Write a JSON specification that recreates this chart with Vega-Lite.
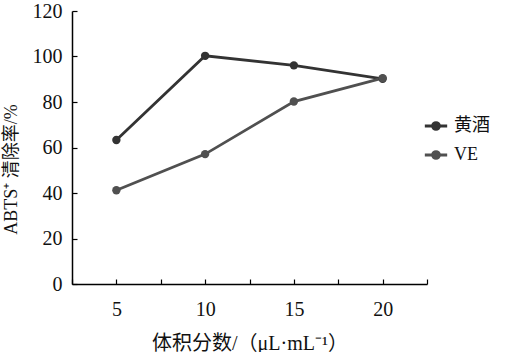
{
  "$schema": "https://vega.github.io/schema/vega-lite/v6.json",
  "width": 355,
  "height": 273,
  "autosize": "none",
  "padding": {"left": 72, "top": 11, "right": 81, "bottom": 68},
  "background": "white",
  "config": {
    "view": {"stroke": null},
    "font": "Liberation Serif, Noto Sans CJK SC",
    "axis": {
      "domainColor": "#000",
      "domainWidth": 1.5,
      "tickColor": "#000",
      "tickWidth": 1.2,
      "tickSize": -5,
      "grid": false,
      "labelFont": "Liberation Serif",
      "labelFontSize": 20,
      "labelColor": "#111",
      "titleFont": "Liberation Serif, Noto Sans CJK SC",
      "titleFontSize": 18,
      "titleFontWeight": "normal",
      "titleColor": "#111"
    }
  },
  "data": {
    "values": [
      {"v": 5, "r": 63.3, "s": "黄酒"},
      {"v": 10, "r": 100.3, "s": "黄酒"},
      {"v": 15, "r": 96.1, "s": "黄酒"},
      {"v": 20, "r": 90.2, "s": "黄酒"},
      {"v": 5, "r": 41.2, "s": "VE"},
      {"v": 10, "r": 57.1, "s": "VE"},
      {"v": 15, "r": 80.2, "s": "VE"},
      {"v": 20, "r": 90.5, "s": "VE"}
    ]
  },
  "encoding": {
    "x": {
      "field": "v",
      "type": "quantitative",
      "scale": {"domain": [2.5, 22.5], "nice": false, "zero": false},
      "axis": {
        "values": [2.5, 5, 7.5, 10, 12.5, 15, 17.5, 20, 22.5],
        "labelExpr": "datum.value % 5 == 0 ? datum.label : ''",
        "labelPadding": 20,
        "title": "体积分数/（μL·mL⁻¹）",
        "titleFontSize": 20,
        "titlePadding": 14
      }
    },
    "y": {
      "field": "r",
      "type": "quantitative",
      "scale": {"domain": [0, 120], "nice": false},
      "axis": {
        "values": [0, 20, 40, 60, 80, 100, 120],
        "labelPadding": 15,
        "title": "ABTS⁺ 清除率/%",
        "titleY": 158,
        "titlePadding": 12
      }
    },
    "color": {
      "field": "s",
      "type": "nominal",
      "sort": ["黄酒", "VE"],
      "scale": {"domain": ["黄酒", "VE"], "range": ["#333333", "#505050"]},
      "legend": {
        "title": null,
        "orient": "none",
        "legendX": 351,
        "legendY": 102,
        "symbolType": "M -1 0 L 1 0 M -0.3 0 A 0.3 0.3 0 1 0 0.3 0 A 0.3 0.3 0 1 0 -0.3 0",
        "symbolSize": 500,
        "symbolStrokeWidth": 3,
        "labelFont": "Liberation Serif, Noto Sans CJK SC",
        "labelFontSize": 18,
        "labelColor": "#111",
        "rowPadding": 6,
        "labelOffset": 5
      }
    }
  },
  "layer": [
    {"mark": {"type": "line", "strokeWidth": 2.8}},
    {"mark": {"type": "circle", "size": 70, "opacity": 1}}
  ]
}
